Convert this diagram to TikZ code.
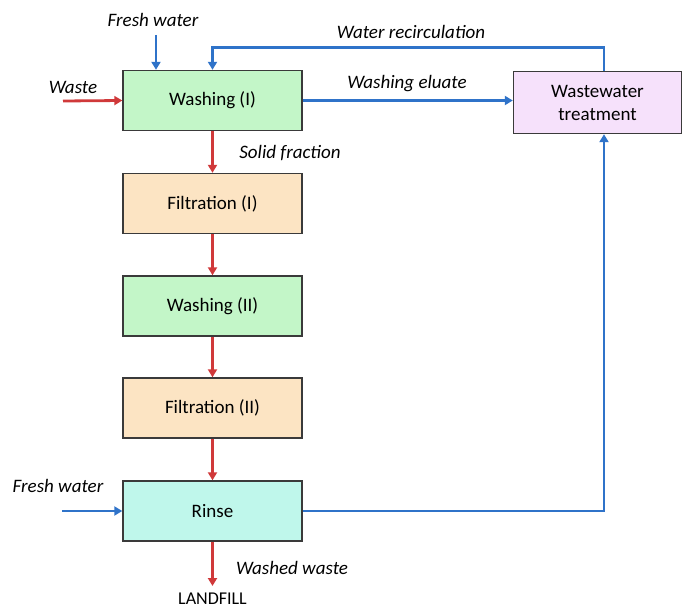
\documentclass[tikz,border=0pt]{standalone}
\usepackage{fontspec}
\setmainfont{Carlito}
\usetikzlibrary{arrows.meta}
\definecolor{redc}{HTML}{D0393A}
\definecolor{bluec}{HTML}{2F73C9}
\definecolor{greenf}{HTML}{C3F6C8}
\definecolor{orangef}{HTML}{FCE4C3}
\definecolor{cyanf}{HTML}{BFF7EB}
\definecolor{pinkf}{HTML}{F6E1FB}
\definecolor{boxd}{HTML}{3A3A3A}
\tikzset{
  procbox/.style={draw=boxd, line width=1.4pt, minimum width=179pt, minimum height=60pt, inner sep=0pt, font=\fontsize{19}{23}\selectfont},
  lbl/.style={font=\fontsize{19}{23}\selectfont\itshape, inner sep=0pt},
  redarr/.style={draw=redc, line width=2.8pt, -{Triangle[length=8pt,width=9pt]}},
  bluearr/.style={draw=bluec, line width=2.8pt, -{Triangle[length=8pt,width=9pt]}},
}
\begin{document}
\begin{tikzpicture}[x=1pt,y=-1pt]
\useasboundingbox (0,0) rectangle (683,607);
\node[procbox, fill=greenf] (w1) at (212.5,100.5) {Washing (I)};
\node[procbox, fill=orangef] (f1) at (212.5,203.5) {Filtration (I)};
\node[procbox, fill=greenf] (w2) at (212.5,306) {Washing (II)};
\node[procbox, fill=orangef] (f2) at (212.5,408) {Filtration (II)};
\node[procbox, fill=cyanf] (r) at (212.5,511) {Rinse};
\node[procbox, fill=pinkf, minimum width=168pt, minimum height=62pt, align=center] (wt) at (597.5,102.5) {Wastewater\\treatment};

\coordinate (wasteS) at (63,101);
\coordinate (fwTop) at (156,35);
\coordinate (fwRinse) at (62,511);
\coordinate (land) at (212.5,586);
\coordinate (recTop) at (604,47.5);

\node[lbl] (lwaste) at (73,87) {Waste};
\node[lbl] (lfw1) at (153,20) {Fresh water};
\node[lbl] (lrec) at (411,32) {Water recirculation};
\node[lbl] (lelu) at (407,84) {Washing eluate};
\node[lbl] (lsol) at (290,153) {Solid fraction};
\node[lbl] (lfw2) at (58,486) {Fresh water};
\node[lbl] (lwash) at (292,568) {Washed waste};
\node[inner sep=0pt, anchor=base, font=\fontsize{18}{20}\selectfont] (lland) at (212.5,604) {LANDFILL};

\draw[redarr] (wasteS) -- (w1.west);
\draw[bluearr] (fwTop) -- (fwTop |- w1.north);
\draw[bluearr] (wt.north -| recTop) -- (recTop) -- (212.5,47.5) -- (w1.north);
\draw[bluearr] (w1.east) -- (wt.west |- w1.east);
\draw[redarr] (w1.south) -- (f1.north);
\draw[redarr] (f1.south) -- (w2.north);
\draw[redarr] (w2.south) -- (f2.north);
\draw[redarr] (f2.south) -- (r.north);
\draw[bluearr] (fwRinse) -- (r.west);
\draw[bluearr] (r.east) -- (r.east -| recTop) -- (wt.south -| recTop);
\draw[redarr] (r.south) -- (land);
\end{tikzpicture}
\end{document}
